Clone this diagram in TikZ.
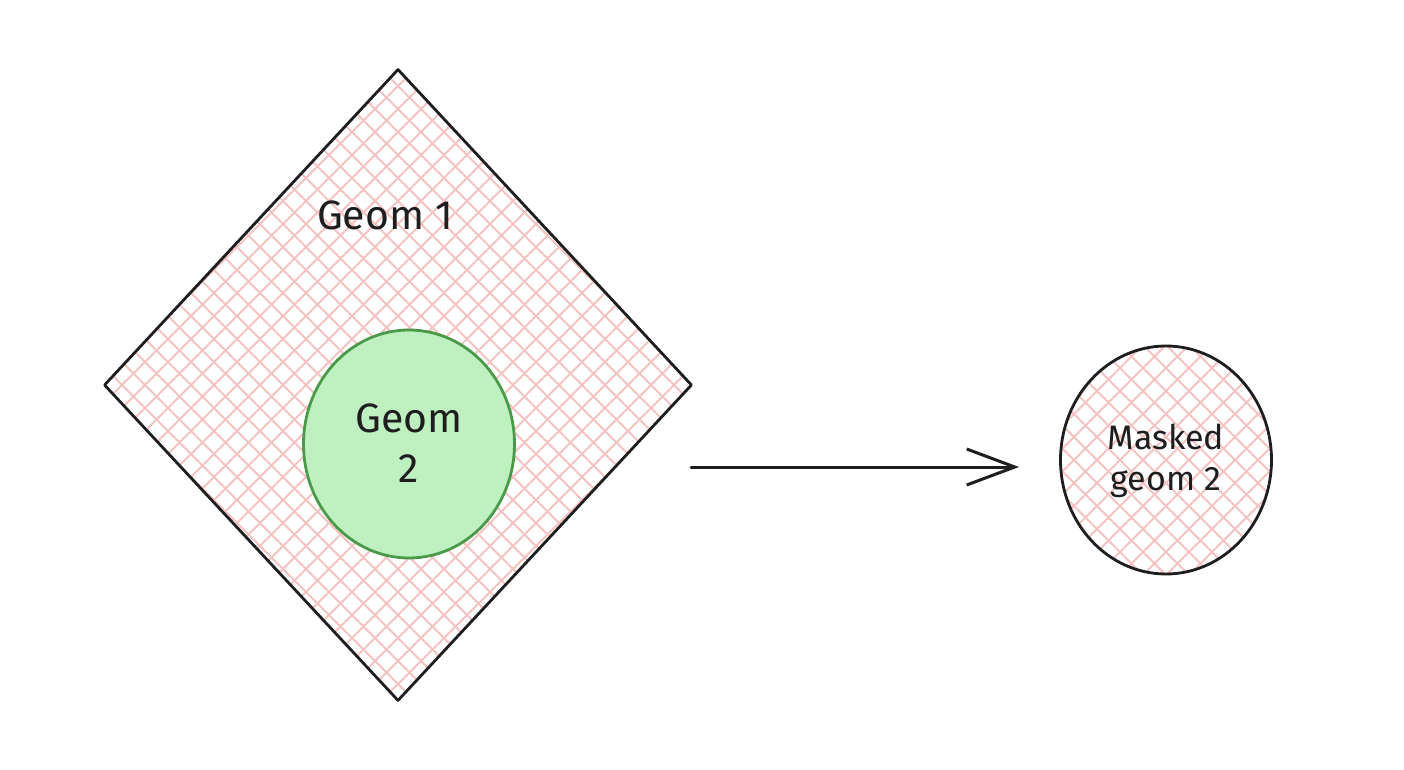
\documentclass[tikz,border=0pt]{standalone}
\usepackage{fontspec}
\setmainfont{Fira Sans}
\usetikzlibrary{shapes.geometric,arrows.meta}
\definecolor{ink}{HTML}{1E1E1E}
\definecolor{hatch}{HTML}{F6C3C3}
\definecolor{gfill}{HTML}{BEF0C0}
\definecolor{gstroke}{HTML}{4A9A4A}
\tikzset{
  hatchline/.style={draw=hatch, line width=0.95pt},
  crosshatch/.style={path picture={
    \foreach \k in {-30,...,30}{
      \draw[hatchline] ([xshift=\k*11.5pt]path picture bounding box.center) ++(-200pt,-200pt) -- ++(400pt,400pt);
      \draw[hatchline] ([xshift=\k*11.5pt]path picture bounding box.center) ++(-200pt,200pt) -- ++(400pt,-400pt);
    }}},
  shapeline/.style={draw=ink, line width=1.4pt, line join=round},
  lbl/.style={text=ink, font=\fontsize{20.5}{25}\selectfont, align=center, inner sep=0pt},
  smalllbl/.style={text=ink, font=\fontsize{17}{20.5}\selectfont, align=center, inner sep=0pt},
}
\begin{document}
\begin{tikzpicture}[x=0.5pt,y=-0.5pt]
\useasboundingbox[fill=white] (0,0) rectangle (1404,770);
% big diamond
\node[diamond, shapeline, crosshatch, inner sep=0pt, minimum width=294pt, minimum height=316pt] (geom1) at (398,385) {};
\node[lbl] (geom1lbl) at (385,215) {Geom 1};
% green ellipse
\node[ellipse, draw=gstroke, fill=gfill, line width=1.4pt, minimum width=105.5pt, minimum height=114pt, inner sep=0pt] (geom2) at (409,444) {};
\node[lbl] (geom2lbl) at (409,443) {Geom\\2};
% result circle
\node[ellipse, shapeline, crosshatch, minimum width=105.5pt, minimum height=114pt, inner sep=0pt] (masked) at (1166,460) {};
\node[smalllbl] (maskedlbl) at (1166,461) {Masked\\geom 2};
% arrow
\coordinate (astart) at (691,467);
\coordinate (aend) at (1019,467);
\draw[draw=ink, line width=1.5pt, line cap=round, -{Straight Barb[length=24pt, width=18pt, line width=1.5pt]}] (astart) -- (aend);
\end{tikzpicture}
\end{document}
